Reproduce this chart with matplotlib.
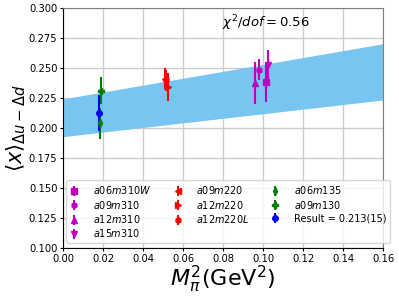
import matplotlib
matplotlib.use("Agg")
import matplotlib.pyplot as plt
import numpy as np

labels = ["$a06m310W$", "$a09m310$", "$a12m310$", "$a15m310$",
          "$a09m220$", "$a12m220$", "$a12m220L$",
          "$a06m135$", "$a09m130$", "Result = 0.213(15)"]
x_vals = [0.1015, 0.0980, 0.0960, 0.1025,
          0.0510, 0.0525, 0.0515,
          0.0183, 0.0188, 0.0180]
y_vals = [0.2385, 0.2490, 0.2380, 0.2530,
          0.2415, 0.2345, 0.2400,
          0.2042, 0.2315, 0.2130]
y_errs = [0.0165, 0.0085, 0.0175, 0.0125,
          0.0090, 0.0120, 0.0085,
          0.0130, 0.0110, 0.0150]
markers = ["s", "h", "^", "v", "<", ">", "h", "d", "P", "o"]
colors = ["m", "m", "m", "m", "r", "r", "r", "g", "g", "b"]

band_x = [0.0, 0.16]
band_lo = [0.1930, 0.2236]
band_hi = [0.2245, 0.2705]

fig = plt.figure(figsize=(3.99, 2.99), dpi=100)
ax = fig.add_axes([0.158, 0.170, 0.802, 0.802])

ax.fill_between(band_x, band_lo, band_hi, color="#78C5F2", lw=0, zorder=1)
for xv, yv, ye, mk, c, lb in zip(x_vals, y_vals, y_errs, markers, colors, labels):
    ax.errorbar(xv, yv, yerr=ye, fmt=mk, color=c, ms=4, elinewidth=1.5,
                capsize=0, label=lb, zorder=3)

ax.set_xlim(0, 0.16)
ax.set_ylim(0.1, 0.3)
ax.set_xticks(np.arange(0, 0.161, 0.02))
ax.set_yticks(np.arange(0.1, 0.301, 0.025))
ax.set_xticklabels([f"{v:.2f}" for v in np.arange(0, 0.161, 0.02)])
ax.set_yticklabels([f"{v:.3f}" for v in np.arange(0.1, 0.301, 0.025)])
ax.tick_params(labelsize=7.2, length=2.5, pad=1.5)
ax.grid(True, color="#cccccc", lw=1)
ax.set_axisbelow(True)
for s in ["top", "right"]:
    ax.spines[s].set_color("#808080")

ax.text(0.0793, 0.2875, r"$\chi^2/dof = 0.56$", fontsize=9.5, va="center")
ax.set_xlabel(r"$M_\pi^2 (\mathrm{GeV}^2)$", fontsize=16, labelpad=0)
ax.set_ylabel(r"$\langle x \rangle_{\Delta u - \Delta d}$", fontsize=15, labelpad=0)
ax.yaxis.set_label_coords(-0.11, 0.5)

ax.legend(loc="lower left", ncol=3, fontsize=7, bbox_to_anchor=(0.008, 0.02),
          borderaxespad=0, handlelength=1.0, handletextpad=1.4,
          columnspacing=2.2, labelspacing=0.25)

fig.savefig("out.png", dpi=100)
